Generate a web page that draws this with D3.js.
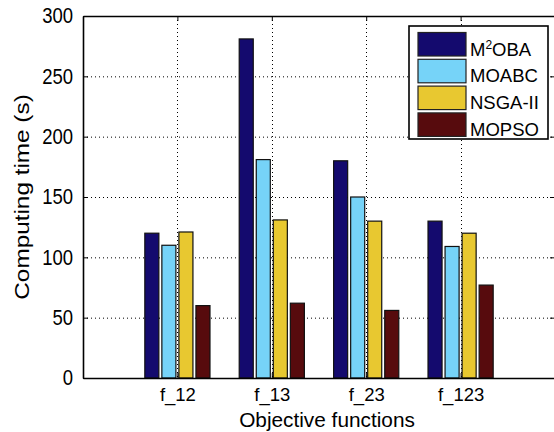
<!DOCTYPE html>
<html>
<head>
<meta charset="utf-8">
<script src="https://cdn.jsdelivr.net/npm/d3@7"></script>
<style>
  body { margin: 0; background: #fff; }
  svg { display: block; }
  text { font-family: "Liberation Sans", Arial, sans-serif; fill: #000; }
</style>
</head>
<body>
<svg id="chart" width="554" height="432"></svg>
<script>
// Computing time per algorithm for each objective-function combination
const categories = ["f_12", "f_13", "f_23", "f_123"];
const seriesNames = ["M2OBA", "MOABC", "NSGA-II", "MOPSO"];
const m2oba  = [120, 281, 180, 130];
const moabc  = [110, 181, 150, 109];
const nsga2  = [121, 131, 130, 120];
const mopso  = [60, 62, 56, 77];
const yTicks = [0, 50, 100, 150, 200, 250, 300];
const colors = ["#140a6e", "#76d3f8", "#e8c830", "#570b0d"];

const series = [m2oba, moabc, nsga2, mopso];

const svg = d3.select("#chart");
const margin = { left: 83, top: 16, right: 555, bottom: 378 };

const x = d3.scaleLinear().domain([0, 5]).range([margin.left, margin.right]);
const y = d3.scaleLinear().domain([0, 300]).range([margin.bottom, margin.top]);

// offsets of the four bars inside a group, in x-data units
const inner = d3.scaleBand()
  .domain(seriesNames)
  .range([-0.361, 0.361])
  .paddingInner(0.176)
  .paddingOuter(0.088);

const catPos = categories.map((c, i) => i + 1);

// dotted grid behind the bars
const grid = svg.append("g")
  .attr("stroke", "#000")
  .attr("stroke-width", 1)
  .attr("stroke-dasharray", "1,3");
grid.selectAll("line.h")
  .data(yTicks.filter(t => t > 0 && t < 300))
  .join("line")
  .attr("x1", margin.left).attr("x2", margin.right)
  .attr("y1", d => y(d) + 0.5).attr("y2", d => y(d) + 0.5);
grid.selectAll("line.v")
  .data(catPos)
  .join("line")
  .attr("x1", d => Math.round(x(d)) + 0.5).attr("x2", d => Math.round(x(d)) + 0.5)
  .attr("y1", margin.top).attr("y2", margin.bottom);

// bars
const barW = x(inner.bandwidth()) - x(0);
series.forEach((vals, s) => {
  svg.append("g")
    .selectAll("rect")
    .data(vals)
    .join("rect")
    .attr("x", (d, i) => x(catPos[i] + inner(seriesNames[s])))
    .attr("y", d => y(d))
    .attr("width", barW)
    .attr("height", d => y(0) - y(d))
    .attr("fill", colors[s])
    .attr("stroke", "#111")
    .attr("stroke-width", 1.2);
});

// axes with inward ticks
const axisLeft = d3.axisLeft(y).tickValues(yTicks).tickSizeInner(-5).tickSizeOuter(0).tickPadding(10);
const axisRight = d3.axisRight(y).tickValues(yTicks).tickSizeInner(-5).tickSizeOuter(0).tickFormat("");
const axisBottom = d3.axisBottom(x).tickValues(catPos).tickFormat((d, i) => categories[i])
  .tickSizeInner(-5).tickSizeOuter(0).tickPadding(10);
const axisTop = d3.axisTop(x).tickValues(catPos).tickSizeInner(-5).tickSizeOuter(0).tickFormat("");

function styleAxis(g) {
  g.select(".domain").attr("stroke", "#000").attr("stroke-width", 1.6);
  g.selectAll(".tick line").attr("stroke", "#000").attr("stroke-width", 1);
  g.selectAll(".tick text").attr("font-size", 18.5).attr("fill", "#000")
    .style("font-family", "'Liberation Sans', Arial, sans-serif");
}

svg.append("g").attr("transform", `translate(${margin.left},0)`).call(axisLeft).call(styleAxis)
  .selectAll(".tick text").attr("transform", "scale(1,1.15)");
svg.append("g").attr("transform", `translate(${margin.right},0)`).call(axisRight).call(styleAxis);
svg.append("g").attr("transform", `translate(0,${margin.bottom})`).call(axisBottom).call(styleAxis)
  .selectAll(".tick text").attr("dy", "0.68em");
svg.append("g").attr("transform", `translate(0,${margin.top})`).call(axisTop).call(styleAxis);

// axis titles
svg.append("text")
  .attr("x", 327)
  .attr("y", 427)
  .attr("text-anchor", "middle")
  .attr("font-size", 20.8)
  .text("Objective functions");

svg.append("text")
  .attr("transform", `translate(29,${(margin.top + margin.bottom) / 2}) scale(1,1.17) rotate(-90)`)
  .attr("text-anchor", "middle")
  .attr("font-size", 20.8)
  .text("Computing time (s)");

// legend
const legend = svg.append("g").attr("transform", "translate(409,26)");
legend.append("rect")
  .attr("width", 139).attr("height", 113)
  .attr("fill", "#fff").attr("stroke", "#000").attr("stroke-width", 1.6);
const rowH = 26.8;
const rows = legend.selectAll("g.row")
  .data(seriesNames)
  .join("g")
  .attr("transform", (d, i) => `translate(9,${6.5 + i * rowH})`);
rows.append("rect")
  .attr("width", 48).attr("height", 23.5)
  .attr("fill", (d, i) => colors[i])
  .attr("stroke", "#222").attr("stroke-width", 1.2);
const labels = rows.append("text")
  .attr("x", 52).attr("y", 23)
  .attr("font-size", 18.5);
labels.each(function(d) {
  const t = d3.select(this);
  if (d === "M2OBA") {
    t.append("tspan").text("M");
    t.append("tspan").attr("font-size", 12).attr("dy", -7).text("2");
    t.append("tspan").attr("dy", 7).text("OBA");
  } else {
    t.text(d);
  }
});
</script>
</body>
</html>
